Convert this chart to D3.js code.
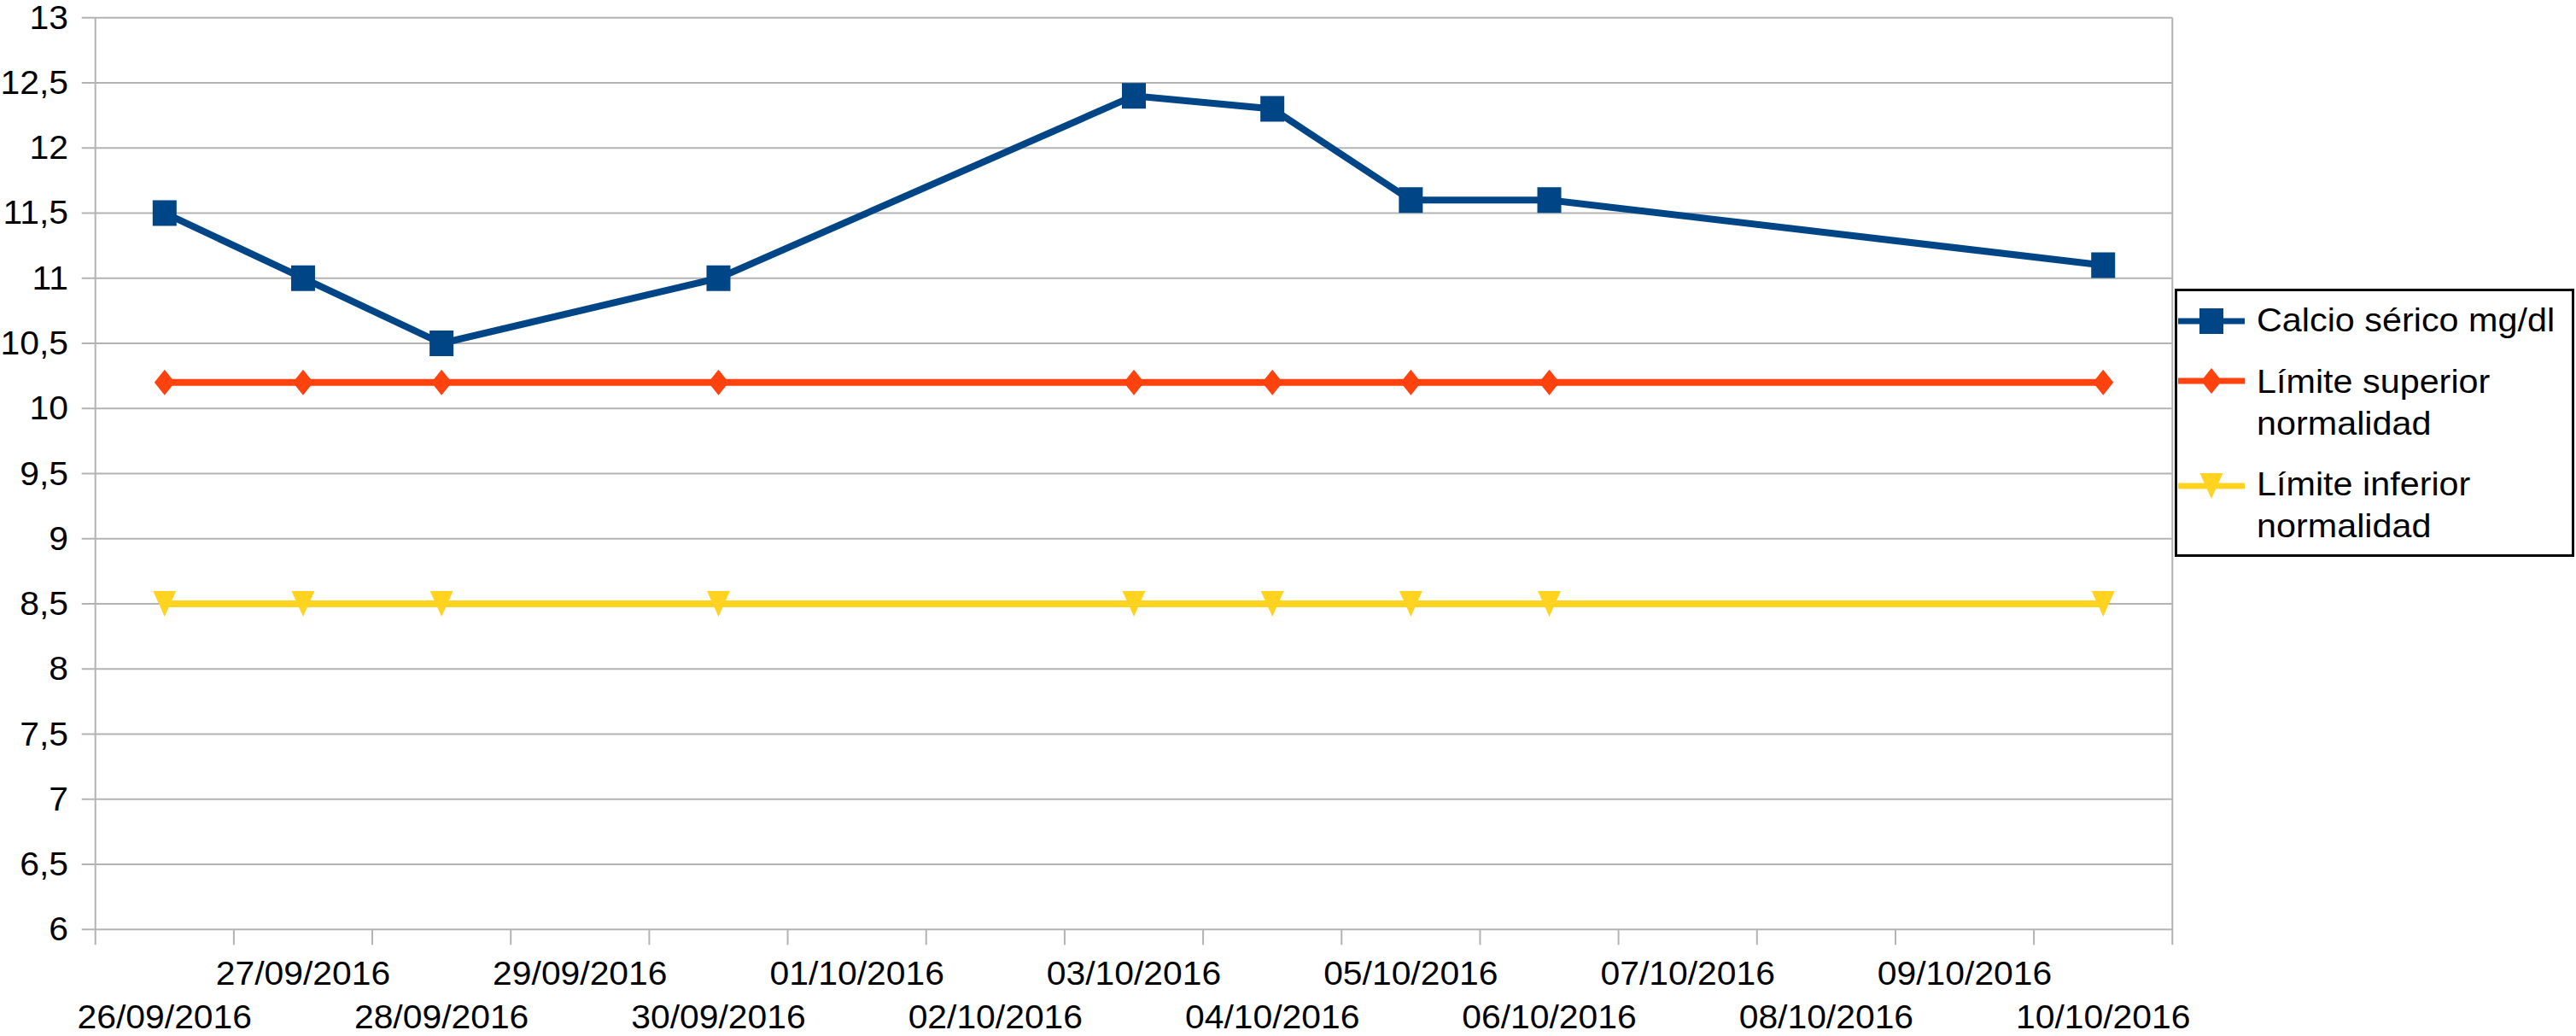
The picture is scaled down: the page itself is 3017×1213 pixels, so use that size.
<!DOCTYPE html>
<html>
<head>
<meta charset="utf-8">
<script src="https://cdn.jsdelivr.net/npm/d3@7"></script>
<style>
  html, body { margin: 0; padding: 0; background: #ffffff; }
  svg { display: block; }
  text { font-family: "Liberation Sans", Arial, sans-serif; fill: #000; }
</style>
</head>
<body>
<svg id="chart" width="3017" height="1213"></svg>
<script>
// ---- data ----
const categories = ["26/09/2016","27/09/2016","28/09/2016","29/09/2016","30/09/2016",
  "01/10/2016","02/10/2016","03/10/2016","04/10/2016","05/10/2016",
  "06/10/2016","07/10/2016","08/10/2016","09/10/2016","10/10/2016"];
const calcio   = [11.5, 11.0, 10.5, null, 11.0, null, null, 12.4, 12.3, 11.6, 11.6, null, null, null, 11.1];
const limSup   = [10.2, 10.2, 10.2, null, 10.2, null, null, 10.2, 10.2, 10.2, 10.2, null, null, null, 10.2];
const limInf   = [8.5, 8.5, 8.5, null, 8.5, null, null, 8.5, 8.5, 8.5, 8.5, null, null, null, 8.5];
const yTicks   = [6, 6.5, 7, 7.5, 8, 8.5, 9, 9.5, 10, 10.5, 11, 11.5, 12, 12.5, 13];
const seriesNames = ["Calcio sérico mg/dl", ["Límite superior", "normalidad"], ["Límite inferior", "normalidad"]];

// ---- layout ----
const svg = d3.select("#chart");
const L = 111.7, R = 2544.3, T = 20.7, B = 1088.3;
const gridColor = "#b3b3b3";
const colors = ["#004586", "#ff420e", "#ffd320"];
const fmt = d3.formatLocale({decimal: ",", thousands: ".", grouping: [3], currency: ["", "€"]}).format("~g");

const x = d3.scaleBand().domain(categories).range([L, R]).padding(0);
const xc = d => x(d) + x.bandwidth() / 2;
const y = d3.scaleLinear().domain([6, 13]).range([B, T]);

function stretchedText(sel, px, py, str, size, sx, anchor) {
  sel.append("text")
    .attr("transform", `translate(${px},${py}) scale(${sx},1)`)
    .attr("font-size", size)
    .attr("text-anchor", anchor)
    .text(str);
}

// gridlines
svg.append("g").selectAll("line").data(yTicks).join("line")
  .attr("x1", L - 16).attr("x2", R)
  .attr("y1", d => y(d)).attr("y2", d => y(d))
  .attr("stroke", gridColor).attr("stroke-width", 2);

// vertical axis lines
svg.append("line").attr("x1", L).attr("x2", L).attr("y1", T).attr("y2", B + 18)
  .attr("stroke", gridColor).attr("stroke-width", 2);
svg.append("line").attr("x1", R).attr("x2", R).attr("y1", T).attr("y2", B + 18)
  .attr("stroke", gridColor).attr("stroke-width", 2);

// x tick marks at category boundaries
svg.append("g").selectAll("line").data(categories.slice(1)).join("line")
  .attr("x1", d => x(d)).attr("x2", d => x(d))
  .attr("y1", B).attr("y2", B + 18)
  .attr("stroke", gridColor).attr("stroke-width", 2);

// y tick labels
const yl = svg.append("g");
yTicks.forEach(v => stretchedText(yl, 80, y(v) + 13, fmt(v), 38, 1.075, "end"));

// x tick labels (staggered)
const xl = svg.append("g");
categories.forEach((c, i) => {
  const py = (i % 2 === 0) ? 1204 : 1153;
  stretchedText(xl, xc(c), py, c, 38, 1.075, "middle");
});

// series
const allSeries = [calcio, limSup, limInf];
const line = d3.line().x(d => xc(d.c)).y(d => y(d.v));

function drawMarker(g, type, cx, cy, color) {
  if (type === 0) {
    g.append("rect").attr("x", cx - 14).attr("y", cy - 15).attr("width", 28).attr("height", 30).attr("fill", color);
  } else if (type === 1) {
    g.append("path").attr("d", `M${cx},${cy - 15} L${cx + 12},${cy} L${cx},${cy + 15} L${cx - 12},${cy} Z`).attr("fill", color);
  } else {
    g.append("path").attr("d", `M${cx - 13.5},${cy - 15} L${cx + 13.5},${cy - 15} L${cx},${cy + 15} Z`).attr("fill", color);
  }
}

allSeries.forEach((vals, si) => {
  const pts = categories.map((c, i) => ({c, v: vals[i]})).filter(d => d.v != null);
  const g = svg.append("g");
  g.append("path").datum(pts).attr("d", line)
    .attr("fill", "none").attr("stroke", colors[si]).attr("stroke-width", 8)
    .attr("stroke-linejoin", "miter");
  pts.forEach(p => drawMarker(g, si, xc(p.c), y(p.v), colors[si]));
});

// legend
const lg = svg.append("g");
lg.append("rect").attr("x", 2548.5).attr("y", 339.5).attr("width", 465).attr("height", 311)
  .attr("fill", "#fff").attr("stroke", "#000").attr("stroke-width", 3);
const legY = [376, 446, 569];
const legBase = [[388], [460, 509], [580, 629]];
seriesNames.forEach((nm, si) => {
  const cy = legY[si];
  lg.append("line").attr("x1", 2551).attr("x2", 2629).attr("y1", cy).attr("y2", cy)
    .attr("stroke", colors[si]).attr("stroke-width", 7);
  drawMarker(lg, si, 2590, cy, colors[si]);
  const lines = Array.isArray(nm) ? nm : [nm];
  lines.forEach((t, k) => stretchedText(lg, 2643, legBase[si][k], t, 39, 1.06, "start"));
});
</script>
</body>
</html>
